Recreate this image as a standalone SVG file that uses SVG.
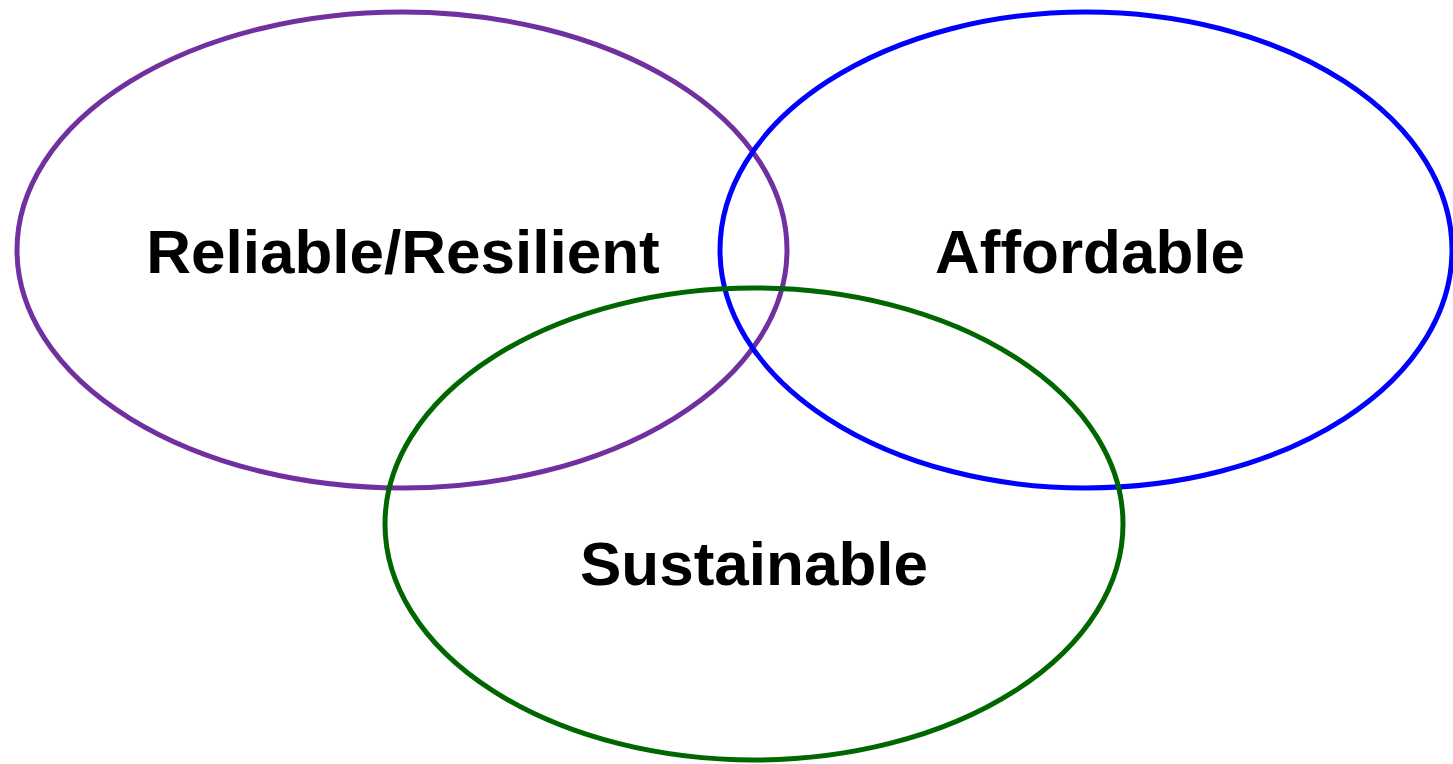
<svg xmlns="http://www.w3.org/2000/svg" width="1453" height="764" viewBox="0 0 1453 764">
<style>
.e{fill:none;stroke-width:5}
.t{font-family:"Liberation Sans",Arial,sans-serif;font-weight:bold;font-size:62px;fill:#000;text-anchor:middle}
</style>
<rect width="1453" height="764" fill="#fff"/>
<g id="reliable">
<ellipse class="e" cx="402" cy="250" rx="385" ry="238" stroke="#7030A0"/>
<text class="t" x="403" y="273">Reliable/Resilient</text>
</g>
<g id="affordable">
<ellipse class="e" cx="1086" cy="250" rx="366" ry="238" stroke="#0000FF"/>
<text class="t" x="1090" y="273">Affordable</text>
</g>
<g id="sustainable">
<ellipse class="e" cx="754" cy="524" rx="369" ry="236" stroke="#006600"/>
<text class="t" x="754" y="585">Sustainable</text>
</g>
<g id="connectors"/>
</svg>
